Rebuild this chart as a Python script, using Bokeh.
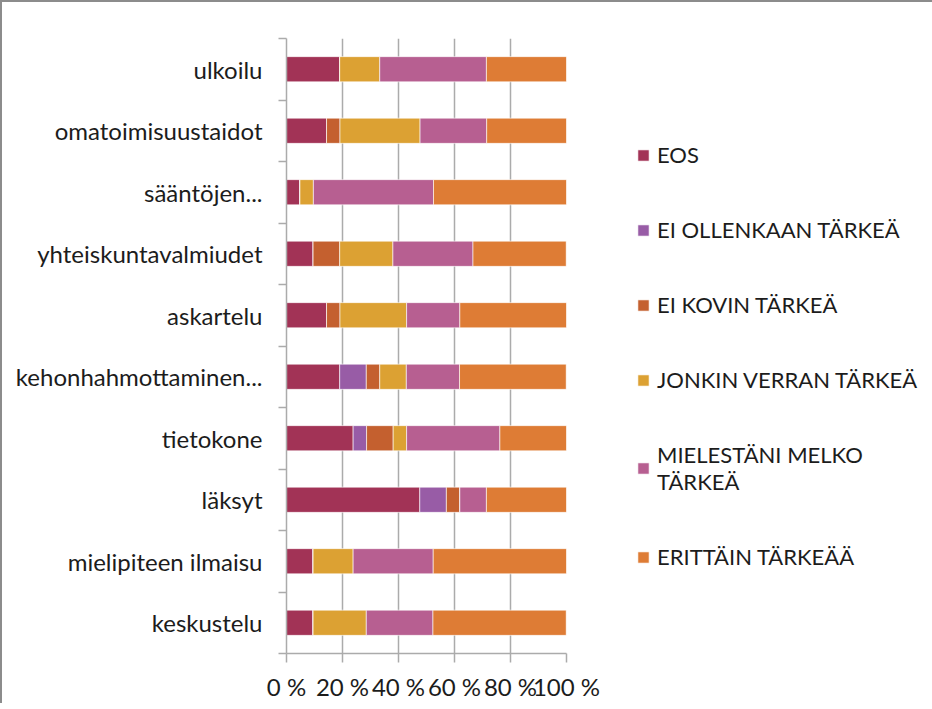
from bokeh.plotting import figure
from bokeh.models import ColumnDataSource, FixedTicker, Legend, LegendItem
from bokeh.embed import file_html
from bokeh.resources import INLINE

# Categories in data order (bottom to top, as in the source chart)
categories = ["keskustelu", "mielipiteen ilmaisu", "läksyt", "tietokone",
              "kehonhahmottaminen...", "askartelu", "yhteiskuntavalmiudet",
              "sääntöjen...", "omatoimisuustaidot", "ulkoilu"]

series = ["EOS", "EI OLLENKAAN TÄRKEÄ", "EI KOVIN TÄRKEÄ",
          "JONKIN VERRAN TÄRKEÄ", "MIELESTÄNI MELKO TÄRKEÄ", "ERITTÄIN TÄRKEÄÄ"]
legend_labels = ["EOS", "EI OLLENKAAN TÄRKEÄ", "EI KOVIN TÄRKEÄ",
                 "JONKIN VERRAN TÄRKEÄ", "MIELESTÄNI MELKO\nTÄRKEÄ", "ERITTÄIN TÄRKEÄÄ"]

# Percent shares per category (%)
eos        = [9.5, 9.5, 47.6, 23.8, 19.0, 14.3, 9.5, 4.8, 14.3, 19.0]
ei_oll     = [0.0, 0.0, 9.5, 4.8, 9.5, 0.0, 0.0, 0.0, 0.0, 0.0]
ei_kovin   = [0.0, 0.0, 4.8, 9.5, 4.8, 4.8, 9.5, 0.0, 4.8, 0.0]
jonkin     = [19.0, 14.3, 0.0, 4.8, 9.5, 23.8, 19.0, 4.8, 28.6, 14.3]
melko      = [23.8, 28.6, 9.5, 33.3, 19.0, 19.0, 28.6, 42.9, 23.8, 38.1]
erittain   = [47.6, 47.6, 28.6, 23.8, 38.1, 38.1, 33.3, 47.6, 28.6, 28.6]

colors = ["#A23356", "#985CA6", "#C4602F", "#DCA133", "#B75F91", "#DE7C35"]

x_ticks = [0, 20, 40, 60, 80, 100]
x_tick_labels = ["0 %", "20 %", "40 %", "60 %", "80 %", "100 %"]

FONT = "Lato"
TEXT = "#1c1c1c"
GRID = "#ABABAB"

keys = ["eos", "ei_oll", "ei_kovin", "jonkin", "melko", "erittain"]
pos = [i + 0.5 for i in range(len(categories))]
source = ColumnDataSource(dict(y=pos, eos=eos, ei_oll=ei_oll, ei_kovin=ei_kovin,
                               jonkin=jonkin, melko=melko, erittain=erittain))

p = figure(frame_width=280, frame_height=615, x_range=(0, 100),
           y_range=(0, len(categories)), output_backend="svg",
           toolbar_location=None, min_border_left=284, min_border_top=36,
           min_border_bottom=44, min_border_right=356)
p.styles = {"border-top": "2px solid #8c8c8c", "border-left": "2px solid #8c8c8c"}
p.outline_line_color = None

renderers = p.hbar_stack(keys, y="y", height=0.41, color=colors, source=source,
                         line_color="white", line_width=0.6)

legend = Legend(items=[LegendItem(label=lbl, renderers=[r])
                       for lbl, r in zip(legend_labels, renderers)])
legend.location = (70, 83)
legend.margin = 0
legend.padding = 0
legend.border_line_color = None
legend.background_fill_color = None
legend.glyph_width = 14
legend.glyph_height = 14
legend.label_standoff = 7
legend.spacing = 48
legend.label_text_font = FONT
legend.label_text_font_size = "22px"
legend.label_text_color = TEXT
p.add_layout(legend, "right")

# x axis
p.xaxis.ticker = FixedTicker(ticks=x_ticks)
p.xaxis.major_label_overrides = {t: l for t, l in zip(x_ticks, x_tick_labels)}
p.xaxis.major_tick_out = 9
p.xaxis.major_tick_in = 0
p.xaxis.minor_tick_line_color = None
p.xaxis.axis_line_color = GRID
p.xaxis.axis_line_width = 1.5
p.xaxis.major_tick_line_color = GRID
p.xaxis.major_tick_line_width = 1.5
p.xaxis.major_label_standoff = 9
p.xaxis.major_label_text_font = FONT
p.xaxis.major_label_text_font_size = "24px"
p.xaxis.major_label_text_color = TEXT

# y axis (categories with ticks on boundaries)
p.yaxis.ticker = FixedTicker(ticks=pos, minor_ticks=list(range(len(categories) + 1)))
p.yaxis.major_label_overrides = {t: c for t, c in zip(pos, categories)}
p.yaxis.major_tick_line_color = None
p.yaxis.major_tick_out = 0
p.yaxis.major_tick_in = 0
p.yaxis.minor_tick_out = 8
p.yaxis.minor_tick_in = 0
p.yaxis.minor_tick_line_color = GRID
p.yaxis.minor_tick_line_width = 1.5
p.yaxis.axis_line_color = GRID
p.yaxis.axis_line_width = 1.5
p.yaxis.major_label_standoff = 16
p.yaxis.major_label_text_font = FONT
p.yaxis.major_label_text_font_size = "24px"
p.yaxis.major_label_text_color = TEXT

p.ygrid.grid_line_color = None
p.xgrid.ticker = FixedTicker(ticks=x_ticks)
p.xgrid.grid_line_color = GRID
p.xgrid.grid_line_width = 1.5

open("out.html", "w").write(file_html(p, INLINE))
